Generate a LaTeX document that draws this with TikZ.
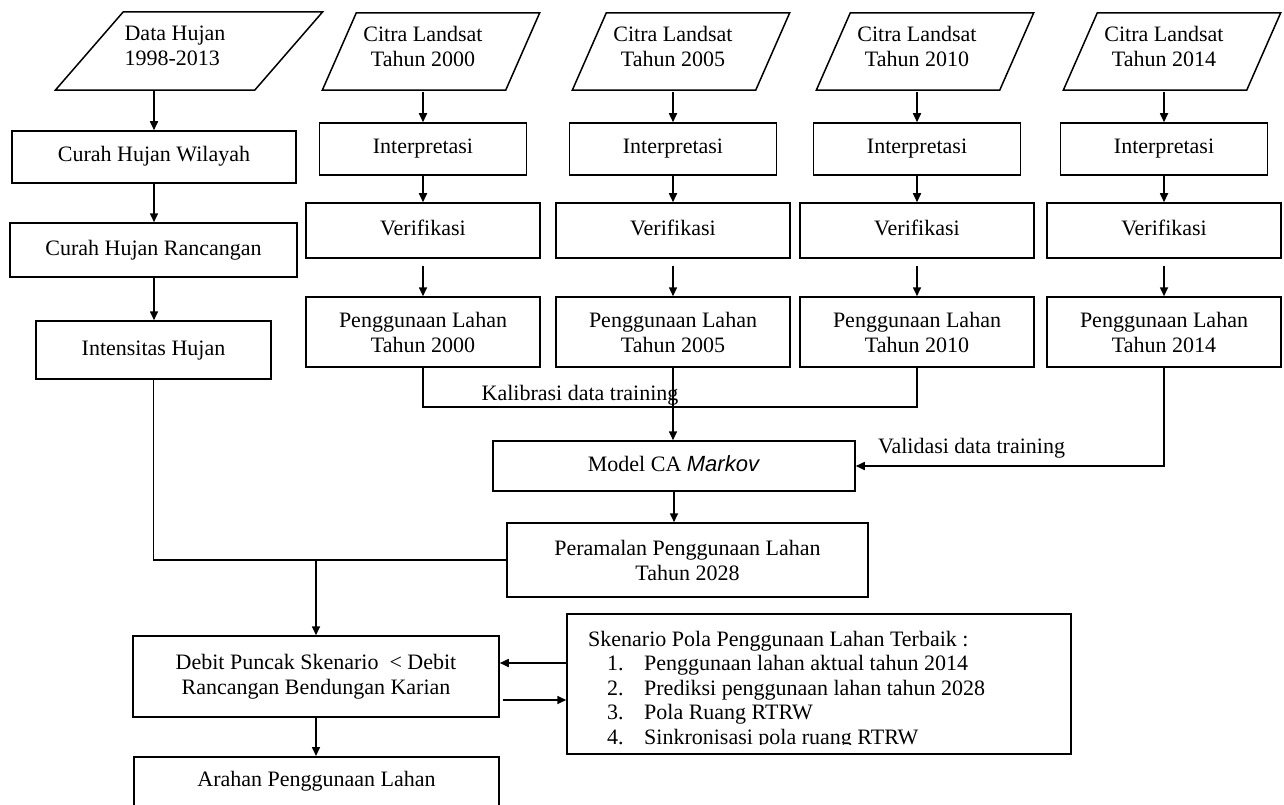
\documentclass[tikz,border=0pt]{standalone}
\usepackage{fontspec}
\setmainfont{Liberation Serif}
\setsansfont{Liberation Sans}
\usetikzlibrary{arrows.meta}
\newcommand\dfont{\fontsize{22}{25}\selectfont}
% parallelogram around a node: #1 name, #2 horizontal offset, #3 half slant
\newcommand\drawpara[3]{%
  \draw[line width=1.5pt]
    ([xshift={(#2+#3)*1pt}]#1.north west) -- ([xshift={(#2+#3)*1pt}]#1.north east) --
    ([xshift={(#2-#3)*1pt}]#1.south east) -- ([xshift={(#2-#3)*1pt}]#1.south west) -- cycle;}
\begin{document}
\begin{tikzpicture}[x=1pt,y=-1pt,
  every node/.style={font=\dfont},
  box/.style={draw, line width=1.5pt, inner sep=0pt, align=center},
  one/.style={text height=15pt, text depth=5pt},
  paranode/.style={inner sep=0pt, align=center, text depth=10pt},
  arr/.style={line width=1.6pt, -{Triangle[length=9pt,width=8pt]}},
  ln/.style={line width=1.6pt}]
\useasboundingbox (0,0) rectangle (1284,805);
\fill[white] (0,0) rectangle (1284,805);

% left column
\node[paranode, align=left, minimum width=199pt, minimum height=78pt] (dh) at (175,51) {Data Hujan\\1998-2013};
\drawpara{dh}{14}{34}
\node[box,one,minimum width=284pt,minimum height=52pt] (chw) at (154,157) {Curah Hujan Wilayah};
\node[box,one,minimum width=287pt,minimum height=54pt] (chr) at (153.5,250) {Curah Hujan Rancangan};
\node[box,one,minimum width=235pt,minimum height=58pt] (ih) at (153.5,350) {Intensitas Hujan};
\draw[arr] (dh.south -| chw.north) -- (chw.north);
\draw[arr] (chw.south) -- (chw.south |- chr.north);
\draw[arr] (chw.south |- chr.south) -- (chw.south |- ih.north);

% Landsat columns
\foreach \yr/\cx in {2000/423, 2005/673, 2010/917, 2014/1164}{
  \node[paranode, minimum width=183pt, minimum height=77pt] (c\yr) at (\cx,51.5) {Citra Landsat\\Tahun \yr};
  \drawpara{c\yr}{8}{17}
  \node[box,one,minimum width=207pt,minimum height=52pt] (i\yr) at (\cx,149) {Interpretasi};
  \node[box,one,minimum width=234pt,minimum height=55pt] (v\yr) at (\cx,230.5) {Verifikasi};
  \node[box,minimum width=234pt,minimum height=70pt] (p\yr) at (\cx,332) {Penggunaan Lahan\\Tahun \yr};
  \draw[arr, shorten <=2pt] (c\yr.south) -- (i\yr.north);
  \draw[arr] (i\yr.south) -- (v\yr.north);
  \draw[arr, shorten <=7pt] (v\yr.south) -- (p\yr.north);
}

% model
\node[box,one,minimum width=362pt,minimum height=50pt] (mod) at (674,466) {Model CA \textsf{\itshape Markov}};
\draw[ln] (p2000.south) -- ++(0,39) -| (p2010.south);
\node[anchor=base, inner sep=0pt] (kal) at (580,400) {Kalibrasi data training};
\draw[arr] (p2005.south) -- (p2005.south |- mod.north);
\draw[arr] (p2014.south) |- (mod.east);
\node[anchor=base, inner sep=0pt] (val) at (971.5,453) {Validasi data training};

% forecast
\node[box,minimum width=361pt,minimum height=74pt] (per) at (687.5,560) {Peramalan Penggunaan Lahan\\Tahun 2028};
\draw[arr] (mod.south) -- (mod.south |- per.north);
\draw[ln] (ih.south) |- (per.west);

% debit
\node[box,minimum width=366pt,minimum height=81pt] (deb) at (316,676.5) {Debit Puncak Skenario \ < Debit\\Rancangan Bendungan Karian};
\draw[arr] (deb.north |- per.west) -- (deb.north);
\node[draw, line width=1.5pt, inner sep=0pt, minimum width=365pt, text height=30pt, text depth=60pt, anchor=north] (ar) at (316.5,756) {Arahan Penggunaan Lahan};
\draw[arr] (deb.south) -- (deb.south |- ar.north);

% scenario box
\node[draw, line width=1.5pt, inner sep=0pt, minimum width=504pt, minimum height=140pt] (sk) at (819,684) {};
\begin{scope}
\clip (567,614) rectangle (1071,744);
\node[anchor=base west, inner sep=0pt] (skt) at (588,646) {\fontsize{22}{24.5}\selectfont
\begin{tabular}[t]{@{}l@{}}
Skenario Pola Penggunaan Lahan Terbaik :\\
\hspace*{19pt}\makebox[37pt][l]{1.}Penggunaan lahan aktual tahun 2014\\
\hspace*{19pt}\makebox[37pt][l]{2.}Prediksi penggunaan lahan tahun 2028\\
\hspace*{19pt}\makebox[37pt][l]{3.}Pola Ruang RTRW\\
\hspace*{19pt}\makebox[37pt][l]{4.}Sinkronisasi pola ruang RTRW
\end{tabular}};
\end{scope}
\coordinate (ua) at ([yshift=21pt]sk.west);
\draw[arr] (ua) -- (ua -| deb.east);
\coordinate (la) at ([yshift=-23.5pt]deb.east);
\draw[arr] ([xshift=3pt]la) -- (la -| sk.west);
\end{tikzpicture}
\end{document}
